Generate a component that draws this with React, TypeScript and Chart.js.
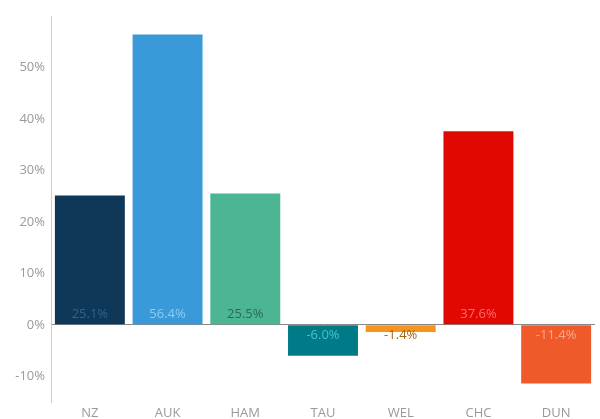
import React, { useEffect, useRef } from "react";
import { Chart, registerables } from "chart.js";

Chart.register(...registerables);

const categories = ["NZ", "AUK", "HAM", "TAU", "WEL", "CHC", "DUN"];
const values = [25.1, 56.4, 25.5, -6.0, -1.4, 37.6, -11.4];
const barColors = ["#0e3758", "#3a9ad9", "#4bb594", "#007a87", "#f7941d", "#e00800", "#f05a2b"];
const labelColors = ["#2d6493", "#8fcaf2", "#2a6b56", "#40c4d2", "#a8640f", "#ff6a66", "#fba88c"];
const yTicks = [-10, 0, 10, 20, 30, 40, 50];

const valueLabels = {
  id: "valueLabels",
  afterDatasetsDraw(chart: any) {
    const ctx = chart.ctx;
    const meta = chart.getDatasetMeta(0);
    const zero = chart.scales.y.getPixelForValue(0);
    ctx.save();
    ctx.font = "13px 'Open Sans'";
    ctx.textAlign = "center";
    ctx.textBaseline = "middle";
    meta.data.forEach((bar: any, i: number) => {
      const v = values[i];
      ctx.fillStyle = labelColors[i];
      const y = v >= 0 ? zero - 11 : zero + 10;
      ctx.fillText(v.toFixed(1) + "%", bar.x, y);
    });
    ctx.restore();
  },
};

export default function App() {
  const ref = useRef<HTMLCanvasElement>(null);
  useEffect(() => {
    if (!ref.current) return;
    const chart = new Chart(ref.current, {
      type: "bar",
      data: {
        labels: categories,
        datasets: [
          {
            data: values,
            backgroundColor: barColors,
            barPercentage: 0.9,
            categoryPercentage: 1,
          },
        ],
      },
      options: {
        animation: false,
        responsive: false,
        maintainAspectRatio: false,
        layout: { padding: { top: 16, right: 5, bottom: 0, left: 0 } },
        plugins: { legend: { display: false }, tooltip: { enabled: false } },
        scales: {
          x: {
            grid: { display: false },
            border: { display: false },
            ticks: { color: "#999", font: { family: "'Open Sans'", size: 13 }, padding: -5 },
            afterFit: (axis: any) => {
              axis.height = 17;
            },
          },
          y: {
            min: -15,
            max: 60,
            afterBuildTicks: (axis: any) => {
              axis.ticks = yTicks.map((v) => ({ value: v }));
            },
            afterFit: (axis: any) => {
              axis.width = 51;
            },
            grid: {
              drawTicks: false,
              color: (c: any) => (c.tick && c.tick.value === 0 ? "#888" : "transparent"),
            },
            border: { color: "#ccc" },
            ticks: {
              color: "#999",
              font: { family: "'Open Sans'", size: 13 },
              padding: 6,
              callback: (v: any) => v + "%",
            },
          },
        },
      },
      plugins: [valueLabels],
    });
    return () => chart.destroy();
  }, []);
  return (
    <div style={{ position: "fixed", left: 0, top: 0, width: 600, height: 419 }}>
      <canvas ref={ref} width={600} height={419} />
    </div>
  );
}
